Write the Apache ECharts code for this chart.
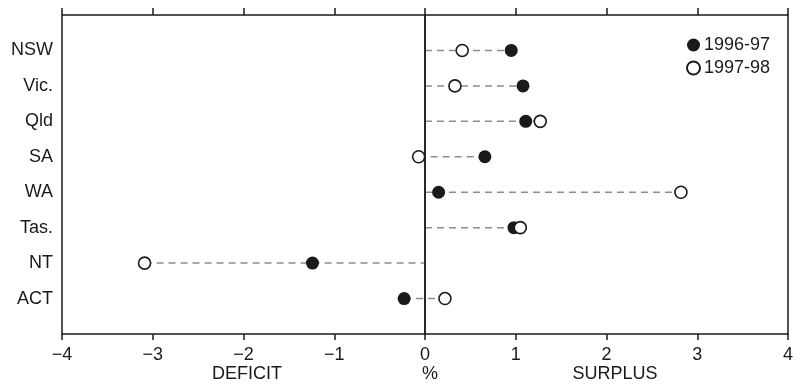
<!DOCTYPE html>
<html>
<head>
<meta charset="utf-8">
<script src="https://cdn.jsdelivr.net/npm/echarts@6/dist/echarts.min.js"></script>
<style>
  html, body { margin: 0; padding: 0; background: #fff; }
  #chart { width: 797px; height: 385px; }
</style>
</head>
<body>
<div id="chart"></div>
<script>
// budget balance, % of GSP
var states = ['NSW', 'Vic.', 'Qld', 'SA', 'WA', 'Tas.', 'NT', 'ACT'];
var y9697 = [0.95, 1.08, 1.11, 0.66, 0.15, 0.98, -1.24, -0.23];
var y9798 = [0.41, 0.33, 1.27, -0.07, 2.82, 1.05, -3.09, 0.22];
var xTicks = [-4, 4, 1]; // min, max, interval

// blank slot above and below so rows sit one step from the frame
var yCats = [''].concat(states, ['']);

var font = '"Liberation Sans", Arial, sans-serif';
var ink = '#1a1a1a';

var filled = states.map(function (s, i) { return [y9697[i], i + 1]; });
var open = states.map(function (s, i) { return [y9798[i], i + 1]; });
// dashed connector from 0 out to the farthest point
var spans = states.map(function (s, i) {
  var lo = Math.min(0, y9697[i], y9798[i]);
  var hi = Math.max(0, y9697[i], y9798[i]);
  return [lo, hi, i + 1];
});

var chart = echarts.init(document.getElementById('chart'));

var option = {
  animation: false,
  backgroundColor: '#fff',
  textStyle: { fontFamily: font },
  grid: {
    left: 62, right: 9, top: 15, bottom: 51,
    show: true, borderColor: ink, borderWidth: 1.5
  },
  legend: {
    orient: 'vertical',
    left: 681, top: 31,
    itemWidth: 13, itemHeight: 13, itemGap: 5,
    textStyle: { fontSize: 18, color: ink, fontFamily: font, padding: [0, 0, 0, -1] },
    data: ['1996-97', '1997-98']
  },
  xAxis: [
    {
      type: 'value', position: 'bottom',
      min: xTicks[0], max: xTicks[1], interval: xTicks[2],
      axisLine: { lineStyle: { color: ink, width: 1.5 } },
      axisTick: { show: true, length: 6, lineStyle: { color: ink, width: 1.5 } },
      axisLabel: {
        color: ink, fontSize: 18, margin: 12, fontFamily: font,
        formatter: function (v) { return v < 0 ? '\u2212' + Math.abs(v) : String(v); }
      },
      splitLine: { show: false }
    },
    {
      type: 'value', position: 'top',
      min: xTicks[0], max: xTicks[1], interval: xTicks[2],
      axisLine: { lineStyle: { color: ink, width: 1.5 } },
      axisTick: { show: true, length: 7, lineStyle: { color: ink, width: 1.5 } },
      axisLabel: { show: false },
      splitLine: { show: false }
    }
  ],
  yAxis: {
    type: 'category', data: yCats, inverse: true, boundaryGap: false,
    axisLine: { lineStyle: { color: ink, width: 1.5 } },
    axisTick: { show: false },
    axisLabel: {
      color: ink, fontSize: 18, margin: 9, fontFamily: font,
      interval: 0
    },
    splitLine: { show: false }
  },
  graphic: [
    { type: 'text', x: 247, y: 374, style: { text: 'DEFICIT', fill: ink, font: '18px ' + font, textAlign: 'center', textVerticalAlign: 'middle' } },
    { type: 'text', x: 430, y: 374, style: { text: '%', fill: ink, font: '18px ' + font, textAlign: 'center', textVerticalAlign: 'middle' } },
    { type: 'text', x: 615, y: 374, style: { text: 'SURPLUS', fill: ink, font: '18px ' + font, textAlign: 'center', textVerticalAlign: 'middle' } }
  ],
  series: [
    {
      type: 'custom',
      name: 'gap',
      silent: true,
      z: 1,
      data: spans,
      encode: { x: [0, 1], y: 2 },
      renderItem: function (params, api) {
        var p1 = api.coord([api.value(0), api.value(2)]);
        var p2 = api.coord([api.value(1), api.value(2)]);
        return {
          type: 'line',
          shape: { x1: p1[0], y1: p1[1], x2: p2[0], y2: p2[1] },
          style: { stroke: '#8a8f93', lineWidth: 1.5, lineDash: [7, 5] }
        };
      }
    },
    {
      type: 'scatter',
      name: '1996-97',
      z: 3,
      symbol: 'circle', symbolSize: 13,
      itemStyle: { color: ink, opacity: 1 },
      data: filled,
      markLine: {
        silent: true, symbol: 'none',
        label: { show: false },
        lineStyle: { color: ink, width: 1.5, type: 'solid' },
        data: [{ xAxis: 0 }]
      }
    },
    {
      type: 'scatter',
      name: '1997-98',
      z: 4,
      symbol: 'circle', symbolSize: 12,
      itemStyle: { color: '#fff', borderColor: ink, borderWidth: 1.6, opacity: 1 },
      data: open
    }
  ]
};

chart.setOption(option);
</script>
</body>
</html>
